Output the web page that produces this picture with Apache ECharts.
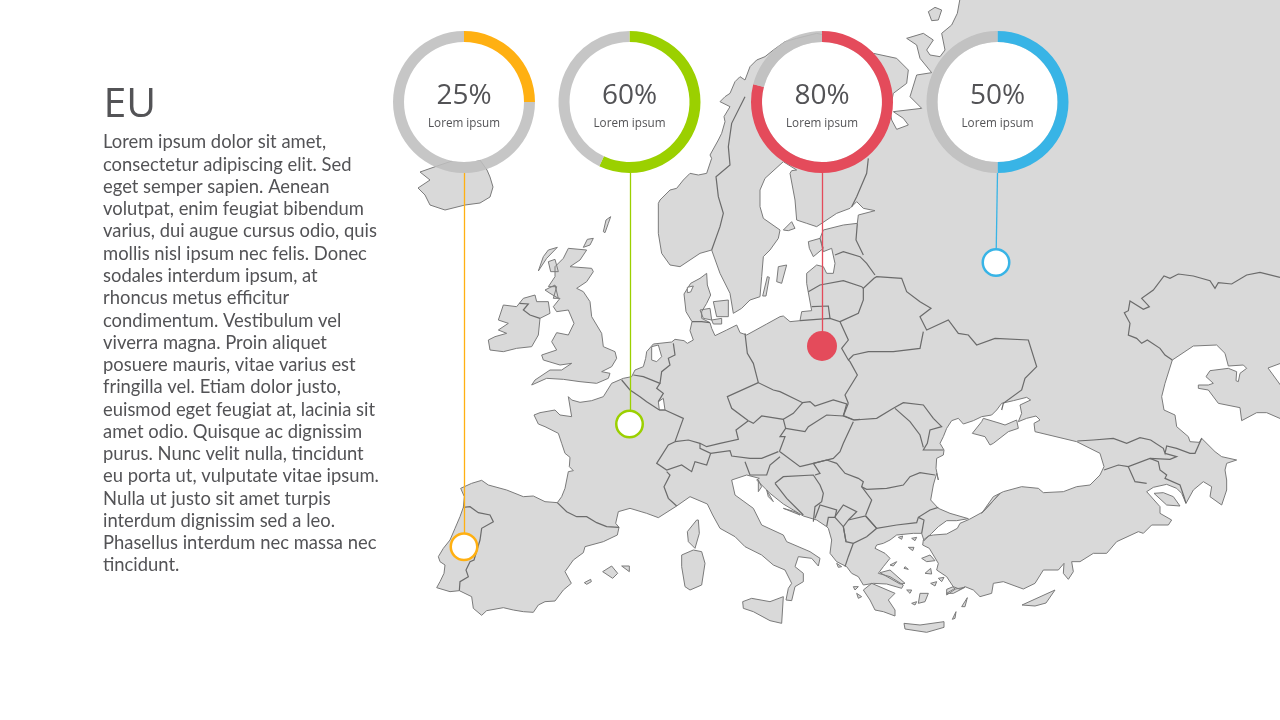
<!DOCTYPE html>
<html><head><meta charset="utf-8">
<style>html,body{margin:0;padding:0;background:#fff}#c{width:1280px;height:720px}</style>
<script src="https://cdn.jsdelivr.net/npm/echarts@6/dist/echarts.min.js"></script>
</head><body><div id="c"></div>
<script>
const heading = 'EU';
const bodyLines = ['Lorem ipsum dolor sit amet,','consectetur adipiscing elit. Sed','eget semper sapien. Aenean','volutpat, enim feugiat bibendum','varius, dui augue cursus odio, quis','mollis nisl ipsum nec felis. Donec','sodales interdum ipsum, at','rhoncus metus efficitur','condimentum. Vestibulum vel','viverra magna. Proin aliquet','posuere mauris, vitae varius est','fringilla vel. Etiam dolor justo,','euismod eget feugiat at, lacinia sit','amet odio. Quisque ac dignissim','purus. Nunc velit nulla, tincidunt','eu porta ut, vulputate vitae ipsum.','Nulla ut justo sit amet turpis','interdum dignissim sed a leo.','Phasellus interdum nec massa nec','tincidunt.'];
const percentLabels = [25, 60, 80, 50];
const arcShares = [25, 57, 79, 50];
const donutCaption = ['Lorem ipsum','Lorem ipsum','Lorem ipsum','Lorem ipsum'];
const donutColors = ['#FFB012','#9BD000','#E44B5B','#38B4E6'];
const donutCentres = [[464,102],[629.5,102],[822,102],[997.5,102]];
const leaderStarts = [[464.5,173],[630.5,173],[822.5,173],[997.5,173]];
const markerPoints = [[464,546.7],[629.5,424],[822,346],[996,262.5]];
const leaderEnds = [[464.5,546.7],[630.5,424],[822.5,346],[996,262.5]];
const markerFilled = [false,false,true,false];

// Outline traces in groups [originX, originY, [x,y at 3x, ...]]
const mainland = [
 [430,400,[20,563,30,545,42,520,45,495,30,485,25,470,40,445,60,420,75,385,90,350,100,322,103,290,92,265,125,250,155,241,175,255,230,270,280,290,310,288,345,305,382,308,395,290,405,265,415,215,430,212,418,200,420,172,405,160,395,130,385,100,345,80,325,72,312,45,330,38,375,30,390,45,425,50]],
 [480,170,[265,680,275,690,300,697,335,692,370,680,395,640,430,625,455,620,465,600,490,590,497,565,500,545,520,522,575,516,585,508,612,512,622,520,640,510,630,482,636,455,618,425,612,372,632,340,660,325,680,310,682,345,692,375,680,400,665,425,665,445,690,458,695,475,705,497,740,480,770,465,780,488,800,495,860,462,900,440]],
 [720,250,[190,198,210,215,240,212,245,185,275,182]],
 [650,0,[470,850,470,820,500,795,520,800,530,820,550,820,555,790,545,745,520,755,510,715,520,690,580,675,622,670,625,645,675,632,640,625,620,605,600,625,560,640,500,680,470,670,440,660,435,600,420,520,425,512,440,510,400,485,345,535,330,570,330,620,340,655,390,690,385,715,360,750,340,770,335,830,330,890,300,900,275,925,250,940,240,880,210,820,185,750,150,760,90,800,60,795,35,760,25,700,25,610,30,600,45,585,60,570,80,565,100,540,120,520,145,525,170,520,185,475,180,465,205,420,215,400,225,365,222,350,240,320,210,305,225,290,240,280,255,245,270,230,285,240,300,200,320,180,345,170,370,150,405,125,440,115,500,100,600,120,670,160,740,175,775,210,770,250,730,280,720,330,725,360,740,388,775,375,760,355,730,335,815,325,780,290,800,225,845,218]],
 [900,0,[95,215,60,175,50,135,20,115,70,100,100,120,80,150,90,165,120,170,135,150,125,100,155,75,172,40,182,-15]],
 [0,0,[1295,-15,1295,358,1268,368,1295,405,1295,425]],
 [960,240,[920,518,890,518,845,542,840,503,775,490,745,450,715,445,715,435,745,435,760,430,738,410,750,392,805,385,830,395,828,422,835,425,840,400,860,385,850,375,805,378,795,340,770,315,700,318,637,360,615,430,605,470,612,510,645,525,650,560,685,590,690,605,718,607,725,595,765,635,785,650,830,660,800,670,795,690,800,720,800,750,785,795,750,770,755,740,730,725,700,750,678,790,665,760,650,745,620,733,580,742,560,755,600,800,600,820,635,840,625,855,575,855,550,880,535,875,470,905,440,940,400,940,360,965,335,965,340,995,325,1018,310,1000,312,970,295,990,250,990,225,1030,190,1047,130,1025,100,1030,95,1060,60,1070,40,1050,15,1040,0,1048]],
 [720,430,[700,470,680,478,680,495,705,478,680,440,650,420,655,400,640,375,628,355,608,345,610,330,625,318,640,315,680,312,712,295,720,280,748,268,790,245,840,190]],
 [960,240,[65,820,100,770,130,755,185,740,235,745,250,758,310,755,350,740,390,735,420,705,432,680,420,640,390,625,350,605,225,575,222,550,240,540,228,528,200,535,175,545,185,520,180,495,212,480,200,472,160,482,125,490,110,510,95,525,65,530]],
 [720,250,[760,512,730,522,715,505,695,512,680,535,670,560,660,580,672,600,670,615,650,625,648,655,655,690]],
 [720,430,[650,130,640,165,632,210,655,235,690,250,745,266,710,272,680,272,655,290,635,310,612,332,605,310,580,310,530,315,510,330,490,340,470,345,465,355,495,370,510,385,490,410,475,430,510,440,550,465,545,475,500,462,460,460,430,465,415,440,395,430,380,410,350,395,330,370,335,330,325,295,320,290,290,270,250,258,220,240,190,222,150,190,110,150,118,145,80,135,35,150,45,195,100,235,125,285,190,315,200,335,270,365,300,385,295,408,275,385,235,380,225,410,250,430,250,455,225,470,215,512,198,510,205,475,215,460,195,420,160,405,125,375,75,350,45,320]],
 [430,400,[870,385,848,345,832,312,780,290,740,318,685,353,650,340,600,325,565,335,557,370,567,382,562,405,520,425,465,440,460,458,430,480,405,515,424,550,400,570,375,603,345,605,325,615,310,637,280,635,250,630,220,623,170,632,155,646,130,625,125,590,88,572,60,575]]
];
const islands = [
 [0,0,[420,172,440,165,455,160,480,160,487,170,490,177,493,187,490,197,480,203,465,205,445,210,430,205,425,195,418,188,430,180]],
 [480,170,[30,540,25,510,45,500,80,490,55,480,85,460,55,450,70,405,110,410,130,385,165,375,170,395,205,395,210,430,180,445,175,495,155,530,110,535,70,545]],
 [480,170,[265,235,320,240,300,270,270,290,335,295,340,305,320,335,290,355,310,365,330,395,335,440,365,490,370,530,405,545,410,565,395,590,365,605,390,610,385,625,350,640,300,635,250,628,200,625,155,645,165,630,210,600,245,600,275,580,240,585,190,570,185,555,230,540,215,515,230,488,265,495,282,460,265,420,230,425,220,410,240,385,220,385,230,350,205,350,225,320,225,290,250,265]],
 [480,170,[175,303,200,265,232,232,205,240,190,260]],
 [480,170,[370,185,378,150,392,140,385,160,375,188]],
 [480,170,[310,232,322,208,340,205,330,225]],
 [480,170,[195,360,225,345,235,385,210,370]],
 [480,170,[205,275,225,268,235,305,212,305]],
 [480,170,[700,395,745,390,745,440,710,440]],
 [480,170,[660,420,690,415,695,450,670,445]],
 [480,170,[695,450,725,445,725,462,700,462]],
 [480,170,[848,378,858,378,868,322,862,320]],
 [650,0,[385,800,410,795,395,850,380,845]],
 [650,0,[475,725,510,715,520,745,490,770,478,745]],
 [650,0,[400,690,425,665,435,685,415,692]],
 [900,0,[85,35,105,22,125,30,115,60,95,62]],
 [720,430,[68,515,95,505,150,515,190,500,185,580,150,572,100,545,70,535]],
 [430,400,[755,465,790,450,815,455,825,490,815,555,780,570,765,560,755,500]],
 [430,400,[772,395,800,360,805,360,808,400,795,445,775,425]],
 [430,400,[518,515,545,498,563,520,548,535]],
 [430,400,[575,498,598,498,598,515]],
 [430,400,[463,548,482,538,484,545,470,553]],
 [720,430,[552,580,600,585,672,575,672,592,620,607,555,597]],
 [960,240,[37,580,65,545,70,535,120,550,135,555,170,540,175,565,145,575,100,610,90,615,75,590]],
 [960,240,[582,760,610,758,640,770,660,798,620,795]],
 [0,0,[1022,605,1055,590,1046,603,1035,606]],
 [720,430,[480,428,510,420,555,460,540,462]],
 [720,430,[430,480,455,460,525,490,505,510,525,540,525,558,490,545,465,540,450,510]],
 [720,430,[605,385,630,375,645,392,620,395]],
 [720,430,[615,430,632,415,635,432]],
 [720,430,[725,530,742,503,735,530]],
 [720,430,[697,568,708,545,705,565]],
 [720,430,[535,322,548,318,545,328]],
 [720,430,[565,352,582,352,578,362]],
 [720,430,[560,480,575,480,570,490]],
 [720,430,[600,490,625,490,615,515,595,520]],
 [720,430,[575,520,590,515,585,525]],
 [720,430,[632,460,650,455,645,468]],
 [720,430,[655,445,672,442,665,455]],
 [720,430,[680,490,700,478,735,472,700,490]],
 [720,430,[115,150,125,170,115,185]],
 [720,430,[140,180,160,215,145,200]],
 [720,430,[190,235,240,255,225,245]],
 [720,430,[400,470,415,470,405,480]],
 [720,430,[410,490,425,500,415,505]],
 [720,430,[350,400,365,410,355,412]],
 [720,430,[555,410,565,418,552,415]],
 [720,430,[510,405,530,395,520,408]],
 [720,430,[575,325,590,322,585,332]]
];
const inlandWater = [
 [480,170,[515,530,535,525,545,560,530,575,515,570]],
 [620,330,[115,215,130,205,135,240,118,240]],
 [480,170,[622,352,640,348,632,366,622,368]]
];
const borders = [
 [430,400,[100,322,120,320,145,338,180,345,190,365,155,385,150,420,132,480,120,485,108,510,115,530,90,545,88,572]],
 [430,400,[382,308,410,335,440,350,470,350,500,368,530,380,567,382]],
 [430,400,[740,318,715,295,702,260,720,225,710,215]],
 [480,170,[118,400,145,402,130,420,150,435,180,445]],
 [480,170,[636,455,665,455,690,458]],
 [620,330,[5,150,30,180,60,200,80,215,110,235,118,240,135,240,190,265,165,335]],
 [620,330,[40,135,70,140,120,160,110,175,130,190,115,215]],
 [620,330,[120,160,125,125,150,105,145,85,165,75,160,40]],
 [620,330,[165,335,145,345,110,400,140,420,185,405,215,425,225,395,260,405,272,370]],
 [620,330,[165,335,205,330,240,340,260,350,300,340,355,328,348,300,385,272]],
 [620,330,[240,340,240,355,272,370,330,362,335,378,390,385,425,385,475,365]],
 [620,330,[385,272,400,280,425,258,490,268,497,295,480,320,495,320,478,365]],
 [620,330,[385,272,335,235,322,200,415,158]],
 [620,330,[375,10,382,70,400,100,415,158,460,180,480,185,548,218,570,215,585,228,640,210,680,222,670,258]],
 [620,330,[490,268,520,250,548,218]],
 [620,330,[497,295,555,305,565,290,620,255,670,258,700,270,720,268]],
 [620,330,[700,275,670,340,660,365,640,385,580,400,540,410,480,365]],
 [620,330,[375,395,390,435,440,435,450,405,480,380]],
 [620,330,[465,460,490,440,580,435,600,465,610,490,605,515,585,530,580,575]],
 [620,330,[465,460,500,505,550,555]],
 [620,330,[580,400,600,430,585,435]],
 [720,430,[280,100,320,90,350,100,375,130,415,145,430,155,425,170,455,210,437,255]],
 [720,430,[425,170,440,178,500,175,550,165,570,140,600,128,645,135]],
 [720,430,[437,258,470,295,530,285,590,278,595,262,630,240,655,232]],
 [720,430,[595,262,612,270,605,310]],
 [720,430,[385,270,437,258,470,295,440,320,400,340,378,335,370,290,385,270]],
 [720,430,[345,260,370,225,410,245,385,270]],
 [720,430,[285,265,300,225,350,240,345,262,325,262,320,290]],
 [720,430,[345,262,370,290,378,335]],
 [720,430,[400,340,385,380,375,410]],
 [720,250,[385,460,370,497,403,510,470,505,520,475,550,458,610,465,640,505,665,530,630,540,622,580,610,600,650,600,670,600]],
 [720,250,[525,475,570,515,600,555,610,592]],
 [720,250,[385,460,375,435,412,375,390,335,385,330,365,295,385,270,360,215,330,205,240,212]],
 [720,250,[360,215,415,190,430,150,430,115,462,85,470,80,545,85,560,125,600,155,633,175,600,200,620,240,685,210,715,250,745,255,770,285,825,265,925,270,950,350,915,385,905,420,850,460,845,480]],
 [720,250,[265,125,300,105,370,92,425,110,430,115]],
 [720,250,[275,170,325,168,330,205]],
 [720,250,[385,330,400,315,445,305,520,305,600,295,610,245]],
 [650,0,[555,765,580,755,630,770,650,790,675,825]],
 [650,0,[622,670,618,720,640,765]],
 [650,0,[655,475,650,520,620,590,605,620]],
 [650,0,[185,750,210,680,220,640,205,590,198,530,240,495,235,440,245,370,285,290]],
 [960,240,[352,603,400,600,460,595,500,610,540,593,572,600,610,625,615,640,620,618,650,625,690,640,705,640,725,595]],
 [960,240,[615,640,650,650,630,658,570,655,505,680,475,675,432,690]],
 [960,240,[505,680,525,725,560,730]],
 [960,240,[570,655,595,665,600,690,620,705,615,715,660,735,672,770,678,790]],
 [960,240,[960,112,900,97,860,105,815,132,775,128,765,145,750,122,700,108,655,102,630,115,612,108,580,150,545,175,568,200,550,208,510,183,505,212,493,218,510,250,505,285,530,295,545,310,562,300,600,325,615,345,637,360]]
];

// trace -> map coordinates (latitude runs upward, so it is the negated y)
const toCoords = ([ox, oy, a]) => {
  const out = [];
  const s = ox === 0 ? 1 : 3;
  for (let i = 0; i < a.length; i += 2) out.push([ox + a[i] / s, -(oy + a[i + 1] / s)]);
  return out;
};
const closeRing = r => r.concat([r[0]]);
const mainlandRing = closeRing(mainland.flatMap(toCoords));
const feature = (name, rings) => ({type:'Feature',properties:{name},geometry:{type:'MultiPolygon',coordinates:rings.map(r=>[r])}});
echarts.registerMap('europe',{type:'FeatureCollection',features:[
  feature('Land',[mainlandRing].concat(islands.map(g=>closeRing(toCoords(g))))),
  feature('Water',inlandWater.map(g=>closeRing(toCoords(g))))
]});

const chart = echarts.init(document.getElementById('c'),null,{renderer:'canvas'});
const ink = '#535356';
const graphics = [];
bodyLines.forEach((t,i)=>graphics.push({type:'text',z:50,style:{text:t,x:103,y:142.5+i*22.26,fill:ink,font:'18.4px Lato',textVerticalAlign:'middle'}}));
graphics.push({type:'text',z:50,style:{text:heading,x:103.5,y:105,fill:ink,font:'41px "Open Sans"',textVerticalAlign:'middle'}});
percentLabels.forEach((v,i)=>{
  graphics.push({type:'text',z:50,style:{text:v+'%',x:donutCentres[i][0],y:96.5,fill:ink,font:'28px "Open Sans"',textAlign:'center',textVerticalAlign:'middle'}});
  graphics.push({type:'text',z:50,style:{text:donutCaption[i],x:donutCentres[i][0],y:123.5,fill:ink,font:'11.7px "Open Sans"',textAlign:'center',textVerticalAlign:'middle'}});
});
const series = [];
series.push({type:'lines',coordinateSystem:'geo',polyline:true,silent:true,z:3,
  lineStyle:{color:'#6b6b6b',width:1.2,opacity:1},
  data:borders.map(g=>({coords:toCoords(g)}))});
percentLabels.forEach((v,i)=>{
  series.push({type:'lines',coordinateSystem:'geo',silent:true,z:4,
    lineStyle:{color:donutColors[i],width:1.3,opacity:1},
    data:[{coords:[[leaderStarts[i][0],-leaderStarts[i][1]],[leaderEnds[i][0],-leaderEnds[i][1]]]}]});
  series.push({type:'scatter',coordinateSystem:'geo',silent:true,z:5,symbol:'circle',
    symbolSize:markerFilled[i]?30:26.5,
    itemStyle:{color:markerFilled[i]?donutColors[i]:'#fff',borderColor:donutColors[i],borderWidth:markerFilled[i]?0:2.5,opacity:1},
    data:[[markerPoints[i][0],-markerPoints[i][1]]]});
  series.push({type:'pie',silent:true,z:6,center:donutCentres[i],radius:[0,60],label:{show:false},labelLine:{show:false},
    itemStyle:{color:'#fff'},data:[{value:1}],animation:false});
  series.push({type:'pie',silent:true,z:7,center:donutCentres[i],radius:[60,71],startAngle:90,clockwise:true,label:{show:false},labelLine:{show:false},
    data:[{value:arcShares[i],itemStyle:{color:donutColors[i]}},{value:100-arcShares[i],itemStyle:{color:'rgba(190,190,190,0.88)'}}],animation:false});
});
chart.setOption({
  animation:false,backgroundColor:'#fff',
  geo:{map:'europe',roam:false,silent:true,aspectScale:1,left:0,top:0,width:1280,height:720,
    boundingCoords:[[0,0],[1280,-720]],z:1,
    itemStyle:{areaColor:'#d9d9d9',borderColor:'#7b7b7b',borderWidth:1},
    label:{show:false},
    regions:[{name:'Water',itemStyle:{areaColor:'#ffffff',borderColor:'#7b7b7b',borderWidth:1}}]},
  graphic:graphics,
  series
});
</script></body></html>
